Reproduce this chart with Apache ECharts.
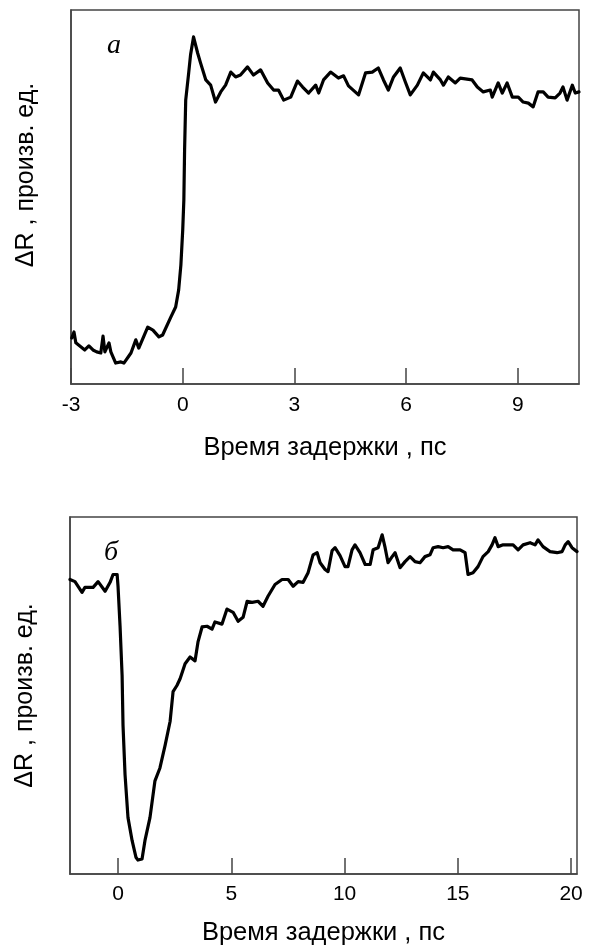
<!DOCTYPE html>
<html>
<head>
<meta charset="utf-8">
<script src="https://cdn.jsdelivr.net/npm/echarts@6/dist/echarts.min.js"></script>
<style>
  html, body { margin: 0; padding: 0; background: #fff; }
  #chart { width: 591px; height: 947px; }
</style>
</head>
<body>
<div id="chart"></div>
<script>
// Panel "а": reflectivity change vs. delay time (ps), arbitrary units
const timeA = [-2.98,-2.92,-2.87,-2.73,-2.63,-2.52,-2.41,-2.31,-2.20,-2.14,-2.09,-1.98,-1.93,-1.80,-1.66,-1.58,-1.39,-1.26,-1.18,-0.94,-0.80,-0.64,-0.54,-0.32,-0.19,-0.11,-0.05,0.00,0.03,0.05,0.08,0.16,0.21,0.29,0.40,0.48,0.62,0.75,0.88,1.02,1.15,1.29,1.42,1.55,1.74,1.90,2.09,2.28,2.44,2.57,2.71,2.90,3.08,3.22,3.38,3.57,3.65,3.78,3.97,4.18,4.32,4.45,4.72,4.91,5.09,5.25,5.39,5.52,5.66,5.84,5.98,6.11,6.30,6.46,6.65,6.73,6.92,7.00,7.13,7.32,7.45,7.77,7.91,8.07,8.26,8.31,8.47,8.58,8.71,8.85,9.01,9.14,9.28,9.41,9.54,9.68,9.81,10.00,10.13,10.21,10.32,10.46,10.54,10.64];
const signalA = [12.3,13.9,11.0,9.9,9.1,10.2,9.1,8.6,8.3,12.8,8.6,11.0,8.6,5.6,5.9,5.6,8.3,11.8,9.6,15.2,14.4,12.6,13.1,17.9,20.6,25.1,31.8,41.2,49.2,62.6,75.9,83.2,88.0,92.8,88.5,85.8,81.3,79.9,75.4,78.1,79.9,83.4,82.1,82.6,84.8,82.6,84.0,80.5,78.6,78.6,75.9,76.7,81.0,79.4,77.8,79.9,77.8,81.3,83.4,81.8,82.4,79.7,77.3,83.2,83.4,84.5,81.3,78.6,82.1,84.5,80.7,77.3,79.9,83.2,81.3,83.4,81.3,79.9,82.1,80.5,81.8,81.3,79.4,78.1,78.6,76.7,80.5,77.8,80.5,76.7,76.7,75.4,75.1,74.1,78.1,78.1,76.7,76.5,77.8,79.4,75.9,79.9,77.8,78.1];

// Panel "б": reflectivity change vs. delay time (ps), arbitrary units
const timeB = [-2.12,-1.90,-1.59,-1.46,-1.10,-0.88,-0.57,-0.35,-0.22,-0.04,0.00,0.09,0.18,0.22,0.31,0.44,0.62,0.79,0.88,1.06,1.19,1.41,1.63,1.85,2.08,2.30,2.43,2.60,2.74,2.96,3.18,3.40,3.53,3.71,3.93,4.15,4.28,4.59,4.81,5.08,5.30,5.52,5.70,5.92,6.18,6.40,6.62,6.93,7.24,7.51,7.73,7.95,8.17,8.39,8.61,8.79,8.92,9.14,9.27,9.45,9.58,9.80,10.02,10.15,10.33,10.46,10.68,10.91,11.13,11.26,11.48,11.66,11.79,11.92,12.10,12.23,12.45,12.67,12.89,13.11,13.33,13.55,13.77,13.91,14.13,14.35,14.57,14.79,15.10,15.32,15.45,15.67,15.89,16.11,16.34,16.51,16.64,16.78,17.00,17.44,17.66,17.88,18.19,18.41,18.54,18.76,19.07,19.38,19.60,19.74,19.87,20.04,20.26];
const signalB = [82.5,81.9,78.9,80.3,80.3,81.9,79.2,81.7,83.9,83.9,80.6,69.4,55.6,41.7,27.8,15.8,9.4,4.7,3.9,4.2,9.4,15.8,26.1,29.7,36.1,42.8,51.1,52.8,54.7,58.9,60.8,59.7,65.0,69.2,69.4,68.6,70.6,70.0,74.2,73.3,70.8,71.9,76.4,76.1,76.4,75.0,77.8,81.1,82.5,82.5,80.6,81.9,81.7,84.4,89.4,90.0,87.2,85.3,84.7,90.6,91.4,89.2,86.1,86.1,90.8,92.2,90.0,86.7,86.7,90.8,91.4,95.0,91.4,87.2,88.9,90.0,85.8,87.5,88.9,87.5,87.2,88.9,89.4,91.4,91.7,91.4,91.7,90.8,90.8,90.0,83.9,84.4,86.1,88.9,90.3,92.2,94.2,91.7,92.2,92.2,90.8,92.2,92.8,92.2,93.6,91.7,90.3,90.0,90.3,92.2,93.1,91.4,90.3];

// Tick labels
const ticksA = [-3, 0, 3, 6, 9];
const ticksB = [0, 5, 10, 15, 20];

const xTitle = 'Время задержки , пс';
const yTitle = 'ΔR , произв. ед.';

const zip = (xs, ys) => xs.map((x, i) => [x, ys[i]]);

const frame = '#444';
const sans = '"Liberation Sans", Arial, sans-serif';

function xAxisFor(gridIndex, min, max, ticks, nameGap, labelMargin) {
  return {
    type: 'value', gridIndex, min, max, position: 'bottom',
    name: xTitle, nameLocation: 'middle', nameGap,
    nameTextStyle: { fontFamily: sans, fontSize: 25.5, color: '#000' },
    axisLine: { show: true, onZero: false, lineStyle: { color: frame, width: 1.5 } },
    axisTick: { show: true, inside: true, length: 16, customValues: ticks, lineStyle: { color: frame, width: 1.5 } },
    axisLabel: { show: true, customValues: ticks, margin: labelMargin, fontFamily: sans, fontSize: 21, color: '#000',
      formatter: v => String(v).replace('\u2212', '-') },
    splitLine: { show: false }
  };
}

// leftPad shifts the rotated title along the axis (towards the top)
function yAxisFor(gridIndex, leftPad) {
  return {
    type: 'value', gridIndex, min: 0, max: 100, position: 'left',
    name: yTitle, nameLocation: 'middle', nameGap: 32, nameRotate: 90,
    nameTextStyle: { fontFamily: sans, fontSize: 25, color: '#000', padding: [0, 0, 0, leftPad] },
    axisLine: { show: true, onZero: false, lineStyle: { color: frame, width: 1.5 } },
    axisTick: { show: false }, axisLabel: { show: false }, splitLine: { show: false }
  };
}

const lineStyle = { color: '#000', width: 3.2, join: 'round', cap: 'round' };

const option = {
  backgroundColor: '#fff',
  animation: false,
  grid: [
    { left: 71, top: 10, right: 12, height: 374, show: true, borderColor: frame, borderWidth: 1.5, containLabel: false },
    { left: 70, top: 517, right: 14, height: 360, show: true, borderColor: frame, borderWidth: 1.5, containLabel: false }
  ],
  xAxis: [
    xAxisFor(0, -3, 10.64, ticksA, 51, 11),
    xAxisFor(1, -2.12, 20.26, ticksB, 46, 10)
  ],
  yAxis: [yAxisFor(0, 44), yAxisFor(1, 0)],
  series: [
    { type: 'line', xAxisIndex: 0, yAxisIndex: 0, data: zip(timeA, signalA), showSymbol: false, lineStyle },
    { type: 'line', xAxisIndex: 1, yAxisIndex: 1, data: zip(timeB, signalB), showSymbol: false, lineStyle }
  ],
  graphic: [
    { type: 'text', left: 107, top: 32, style: { text: 'а', font: 'italic 28px "Liberation Serif", "DejaVu Serif", serif', fill: '#000' } },
    { type: 'text', left: 104, top: 539, style: { text: 'б', font: 'italic 28px "Liberation Serif", "DejaVu Serif", serif', fill: '#000' } }
  ]
};

const chart = echarts.init(document.getElementById('chart'), null, { renderer: 'canvas' });
chart.setOption(option);
</script>
</body>
</html>
